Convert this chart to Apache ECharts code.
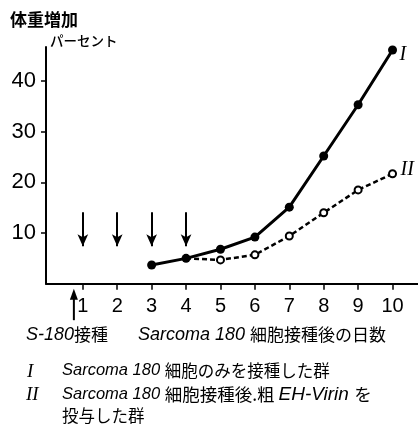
<!DOCTYPE html>
<html><head><meta charset="utf-8">
<script src="https://cdn.jsdelivr.net/npm/echarts@6/dist/echarts.min.js"></script>
<style>html,body{margin:0;padding:0;background:#fff}#c{width:418px;height:439px}</style>
</head><body><div id="c"></div>
<script>
// ---- data ----
const daysI = [3, 4, 5, 6, 7, 8, 9, 10];
const groupI = [3.7, 5.0, 6.8, 9.2, 15.1, 25.2, 35.3, 46.1];
const daysII = [4, 5, 6, 7, 8, 9, 10];
const groupII = [5.0, 4.7, 5.7, 9.4, 14.0, 18.5, 21.7];
const xTicks = [1, 2, 3, 4, 5, 6, 7, 8, 9, 10];
const yTicks = [10, 20, 30, 40];
const injectionDays = [1, 2, 3, 4];
const injectionArrowTop = 14.1;
const injectionArrowTip = 7.4;
const s180Day = 0.74;
const s180ArrowRange = [-1.0, -7.2];

const NUM = "'Liberation Sans','Arimo',sans-serif";
const CJK = "'Noto Sans CJK JP','Noto Sans',sans-serif";
const LAT = "'Liberation Sans','Noto Sans',sans-serif";
const SERIF = "'Liberation Serif','DejaVu Serif',serif";

const chart = echarts.init(document.getElementById('c'), null, {renderer: 'canvas'});

const option = {
  animation: false,
  backgroundColor: '#fff',
  grid: {left: 46, right: 0, top: 47, bottom: 155.3, containLabel: false},
  xAxis: {
    type: 'value', min: -0.07, max: 10.74,
    axisLine: {show: true, onZero: false, lineStyle: {color: '#000', width: 2}},
    axisTick: {show: true, customValues: xTicks, length: 6, lineStyle: {color: '#000', width: 1.5}},
    axisLabel: {customValues: xTicks, margin: 13, color: '#000', fontSize: 20, fontFamily: NUM},
    splitLine: {show: false}
  },
  yAxis: {
    type: 'value', min: 0, max: 46.7,
    axisLine: {show: true, onZero: false, lineStyle: {color: '#000', width: 2}},
    axisTick: {show: true, customValues: yTicks, length: 5, lineStyle: {color: '#000', width: 1.5}},
    axisLabel: {customValues: yTicks, margin: 10, color: '#000', fontSize: 22, fontFamily: NUM},
    splitLine: {show: false}
  },
  series: [
    {
      name: 'II', type: 'line', z: 2,
      data: daysII.map((d, i) => i === 0 ? {value: [d, groupII[i]], symbol: 'none'} : [d, groupII[i]]),
      symbol: 'emptyCircle', symbolSize: 7,
      itemStyle: {color: '#000', borderColor: '#000', borderWidth: 1.5},
      lineStyle: {color: '#000', width: 2.5, type: [5, 3]},
      endLabel: {show: true, formatter: 'II', color: '#000', fontSize: 20, fontStyle: 'italic', fontFamily: SERIF, distance: 8, offset: [0, -4]}
    },
    {
      name: 'I', type: 'line', z: 3,
      data: daysI.map((d, i) => [d, groupI[i]]),
      symbol: 'circle', symbolSize: 9,
      itemStyle: {color: '#000'},
      lineStyle: {color: '#000', width: 3},
      endLabel: {show: true, formatter: 'I', color: '#000', fontSize: 20, fontStyle: 'italic', fontFamily: SERIF, distance: 7, offset: [0, 5]},
      markLine: {
        silent: true, animation: false,
        symbol: ['none', 'arrow'], symbolSize: [8, 12],
        label: {show: false},
        lineStyle: {color: '#000', width: 2, type: 'solid'},
        data: injectionDays.map(d => [{coord: [d, injectionArrowTop]}, {coord: [d, injectionArrowTip]}])
      }
    }
  ]
};
chart.setOption(option);

const p0 = chart.convertToPixel({gridIndex: 0}, [s180Day, s180ArrowRange[0]]);
const p1 = chart.convertToPixel({gridIndex: 0}, [s180Day, s180ArrowRange[1]]);

const rich = {
  i: {fontFamily: LAT, fontStyle: 'italic', fontSize: 16.5, fill: '#000'},
  iv: {fontFamily: LAT, fontStyle: 'italic', fontSize: 19, fill: '#000'},
  ib: {fontFamily: LAT, fontStyle: 'italic', fontSize: 18, fill: '#000'},
  c: {fontFamily: CJK, fontSize: 16.5, fill: '#000'},
  c2: {fontFamily: CJK, fontSize: 17.5, fill: '#000'},
  cb: {fontFamily: CJK, fontSize: 17, fill: '#000'},
  r: {fontFamily: SERIF, fontStyle: 'italic', fontSize: 19, fill: '#000'}
};

chart.setOption({
  graphic: [
    {type: 'text', left: 10, top: 11, style: {text: '体重増加', font: 'bold 17px ' + CJK, fill: '#000'}},
    {type: 'text', left: 50, top: 34, style: {text: 'パーセント', font: '500 13.5px ' + CJK, fill: '#000'}},
    {type: 'line', shape: {x1: p0[0], y1: p0[1] + 6, x2: p1[0], y2: p1[1]}, style: {stroke: '#000', lineWidth: 2}},
    {type: 'polygon', shape: {points: [[p0[0], p0[1]], [p0[0] - 4, p0[1] + 11], [p0[0] + 4, p0[1] + 11]]}, style: {fill: '#000'}},
    {type: 'text', left: 26, top: 326, style: {rich: rich, text: '{ib|S-180}{cb|接種}'}},
    {type: 'text', left: 138, top: 326, style: {rich: rich, text: '{ib|Sarcoma 180 }{cb|細胞接種後の日数}'}},
    {type: 'text', left: 27, top: 362, style: {rich: rich, text: '{r|I}'}},
    {type: 'text', left: 62, top: 362, style: {rich: rich, text: '{i|Sarcoma 180 }{c|細胞のみを接種した群}'}},
    {type: 'text', left: 26, top: 385, style: {rich: rich, text: '{r|II}'}},
    {type: 'text', left: 62, top: 385, style: {rich: rich, text: '{i|Sarcoma 180 }{c2|細胞接種後.粗 }{iv|EH-Virin }{c2|を}'}},
    {type: 'text', left: 62, top: 407, style: {rich: rich, text: '{c|投与した群}'}}
  ]
});
</script>
</body></html>
